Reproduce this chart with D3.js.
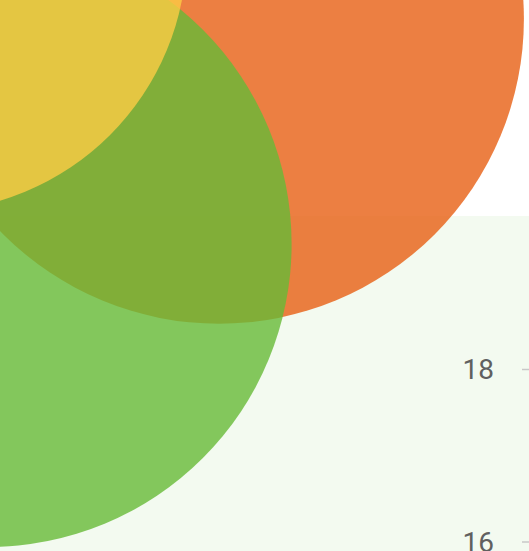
<!DOCTYPE html>
<html>
<head>
<meta charset="utf-8">
<script src="https://cdn.jsdelivr.net/npm/d3@7"></script>
<style>
  html, body { margin: 0; padding: 0; background: #fff; overflow: hidden; }
  svg { display: block; }
</style>
</head>
<body>
<svg id="chart" width="529" height="551"></svg>
<script>
// Bubble series (drawn in this order: orange, green, yellow on top)
const names = ['orange', 'green', 'yellow'];
const xValues = [4.51, 1.84, 1.10];
const yValues = [22.06, 19.45, 22.86];
const sizes = [90.8, 89.6, 67.0];
const colors = ['#e75f13', '#66ba37', '#fccc45'];

// y-axis ticks visible in the crop
const yTicks = [16, 18];

const width = 529;
const height = 551;
const svg = d3.select('#chart');

// scales
const x = d3.scaleLinear().domain([0, 10]).range([-170, 692.5]);
const y = d3.scaleLinear().domain([16, 18]).range([541.5, 369]);
const r = d3.scaleSqrt().domain([0, 100]).range([0, 320]);

// plot background
svg.append('rect')
  .attr('x', 0)
  .attr('y', 216)
  .attr('width', width)
  .attr('height', height - 216)
  .attr('fill', '#f3faf0');

// y axis, labels left of short ticks
const axis = svg.append('g')
  .attr('transform', 'translate(522,0)')
  .call(d3.axisRight(y).tickValues(yTicks).tickSize(10).tickPadding(0).tickFormat(d3.format('d')));
axis.select('.domain').remove();
axis.selectAll('.tick line').attr('stroke', '#c8c8c8').attr('stroke-width', 1.5);
axis.selectAll('.tick text')
  .attr('x', -28)
  .attr('text-anchor', 'end')
  .attr('fill', '#606060')
  .attr('font-family', 'Roboto, "Noto Sans", sans-serif')
  .attr('font-size', 28)
  .attr('dy', '0.35em');

// bubbles
const bubbles = names.map((n, i) => ({
  name: n, x: xValues[i], y: yValues[i], size: sizes[i], color: colors[i],
}));

svg.append('g')
  .selectAll('circle')
  .data(bubbles)
  .join('circle')
  .attr('cx', (d) => x(d.x))
  .attr('cy', (d) => y(d.y))
  .attr('r', (d) => r(d.size))
  .attr('fill', (d) => d.color)
  .attr('fill-opacity', 0.8);
</script>
</body>
</html>
